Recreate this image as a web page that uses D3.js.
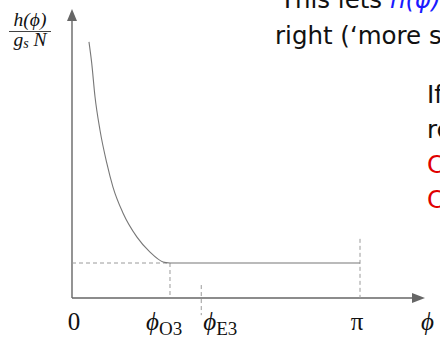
<!DOCTYPE html>
<html lang="en">
  <head>
    <meta charset="UTF-8" />
    <title>h(phi) sketch</title>
    <script src="https://d3js.org/d3.v7.min.js"></script>
    <style>
      body {
        margin: 0;
        background: #fff;
        overflow: hidden;
      }
      .serif {
        font-family: "Liberation Serif", "DejaVu Serif", serif;
      }
      .sans {
        font-family: "DejaVu Sans", "Liberation Sans", sans-serif;
      }
    </style>
  </head>
  <body>
    <div id="chart"></div>
    <script>
    // curve h(phi)/(gs N)
    const phiCurve = [0.185, 0.215, 0.251, 0.305, 0.379, 0.447, 0.556, 0.709, 0.851, 0.993, 1.069];
    const hCurve   = [7.32, 6.71, 5.75, 4.80, 3.86, 3.17, 2.43, 1.74, 1.31, 1.03, 1.0];
    const plateau = 1.0;
    const phiO3 = 1.069, phiE3 = 1.41, phiPi = Math.PI;
    const tickPhi = [0, phiO3, phiE3, phiPi];
    const tickMain = ["0", "ϕ", "ϕ", "π"];
    const tickSub = ["", "O3", "E3", ""];

    const W = 440, H = 337;
    const x = d3.scaleLinear().domain([0, Math.PI]).range([72, 360]);
    const y = d3.scaleLinear().domain([0, 8]).range([298, 18]);

    const svg = d3.select("#chart").append("svg")
        .attr("width", W).attr("height", H);

    const axisCol = "#666", dashCol = "#9a9a9a";

    // axes with arrow heads
    const xEnd = x.invert(414), yEnd = y.invert(20);
    svg.append("line")
        .attr("x1", x(0)).attr("y1", y(0))
        .attr("x2", x(xEnd)).attr("y2", y(0))
        .attr("stroke", axisCol).attr("stroke-width", 1.4);
    svg.append("line")
        .attr("x1", x(0)).attr("y1", y(0))
        .attr("x2", x(0)).attr("y2", y(yEnd))
        .attr("stroke", axisCol).attr("stroke-width", 1.4);
    svg.append("path")
        .attr("d", `M${x(xEnd) - 2},${y(0) - 5} L${x(xEnd) + 11},${y(0)} L${x(xEnd) - 2},${y(0) + 5} Z`)
        .attr("fill", axisCol);
    svg.append("path")
        .attr("d", `M${x(0) - 5},${y(yEnd) + 1} L${x(0)},${y(yEnd) - 11} L${x(0) + 5},${y(yEnd) + 1} Z`)
        .attr("fill", axisCol);

    // dashed guides
    const dashes = [
        [0, plateau, phiO3, plateau],
        [phiO3, plateau, phiO3, 0.08],
        [phiE3, 0.37, phiE3, -0.49],
        [phiPi, 1.69, phiPi, 0]
    ];
    svg.selectAll(".guide").data(dashes).enter().append("line")
        .attr("class", "guide")
        .attr("x1", d => x(d[0])).attr("y1", d => y(d[1]))
        .attr("x2", d => x(d[2])).attr("y2", d => y(d[3]))
        .attr("stroke", dashCol).attr("stroke-width", 1)
        .attr("stroke-dasharray", "4,3");

    // curve and plateau
    const line = d3.line().x(d => x(d[0])).y(d => y(d[1])).curve(d3.curveMonotoneX);
    svg.append("path")
        .datum(d3.zip(phiCurve, hCurve))
        .attr("d", line)
        .attr("fill", "none").attr("stroke", "#777").attr("stroke-width", 1.1);
    svg.append("line")
        .attr("x1", x(phiO3)).attr("y1", y(plateau))
        .attr("x2", x(phiPi)).attr("y2", y(plateau))
        .attr("stroke", "#777").attr("stroke-width", 1.1);

    // tick labels: subscripted ones sit left of / right of their guide
    const labelShift = [2, -24, 2, -3];
    tickPhi.forEach((p, i) => {
        const hasSub = tickSub[i] !== "";
        const t = svg.append("text").attr("class", "serif")
            .attr("x", x(p) + labelShift[i])
            .attr("y", 330)
            .attr("font-size", 25)
            .attr("text-anchor", hasSub ? "start" : "middle")
            .attr("fill", "#111");
        t.append("tspan").attr("font-style", hasSub ? "italic" : "normal")
            .text(tickMain[i]);
        if (hasSub) {
            t.append("tspan").attr("font-size", 19).attr("dy", 5).text(tickSub[i]);
        }
    });
    svg.append("text").attr("class", "serif")
        .attr("x", 421).attr("y", 330)
        .attr("font-size", 25).attr("font-style", "italic").attr("fill", "#111")
        .text("ϕ");

    // y label as a fraction
    svg.append("text").attr("class", "serif")
        .attr("x", 30).attr("y", 26).attr("text-anchor", "middle")
        .attr("font-size", 19.5).attr("font-style", "italic").attr("fill", "#111")
        .text("h(ϕ)");
    svg.append("line")
        .attr("x1", 9).attr("x2", 51).attr("y1", 31.5).attr("y2", 31.5)
        .attr("stroke", "#111").attr("stroke-width", 0.8);
    const den = svg.append("text").attr("class", "serif")
        .attr("x", 30).attr("y", 46).attr("text-anchor", "middle")
        .attr("font-size", 19.5).attr("font-style", "italic").attr("fill", "#111");
    den.append("tspan").text("g");
    den.append("tspan").attr("font-size", 14).attr("dy", 2).text("s");
    den.append("tspan").attr("dy", -2).text(" N");

    // slide text around the figure
    const t1 = svg.append("text").attr("class", "sans")
        .attr("x", 280).attr("y", 8).attr("font-size", 24.5).attr("fill", "#111");
    t1.append("tspan").text("This lets ");
    t1.append("tspan").attr("fill", "#1a1aff").attr("font-style", "italic").text("h(ϕ)");
    svg.append("text").attr("class", "sans")
        .attr("x", 275).attr("y", 44).attr("font-size", 24.5).attr("fill", "#111")
        .text("right (‘more s");

    const sideLines = ["If", "re", "C", "C"];
    const sideCols = ["#111", "#111", "#e00000", "#e00000"];
    svg.selectAll(".side").data(sideLines).enter().append("text")
        .attr("class", "sans side")
        .attr("x", 427).attr("y", (d, i) => 103 + i * 35)
        .attr("font-size", 24.5)
        .attr("fill", (d, i) => sideCols[i])
        .text(d => d);
</script>
  </body>
</html>
